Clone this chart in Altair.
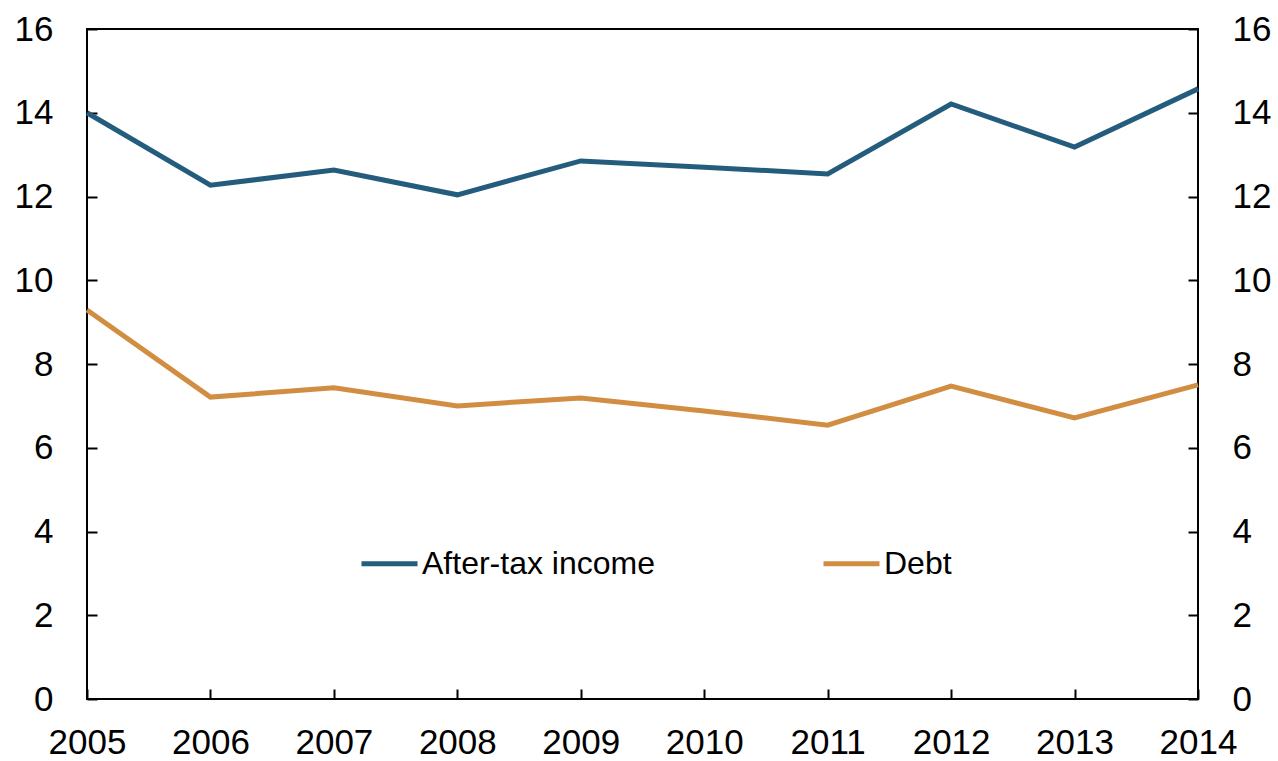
import altair as alt
import pandas as pd

years = [2005, 2006, 2007, 2008, 2009, 2010, 2011, 2012, 2013, 2014]
income = [14.0, 12.27, 12.63, 12.04, 12.85, 12.70, 12.54, 14.21, 13.18, 14.57]
debt = [9.29, 7.21, 7.43, 7.00, 7.19, 6.88, 6.54, 7.47, 6.71, 7.50]
series_names = ["After-tax income", "Debt"]
colors = ["#245C7D", "#D18E42"]
y_ticks = [0, 2, 4, 6, 8, 10, 12, 14, 16]

W, H = 1111, 670
FONT = "Liberation Sans"
FS = 35
LFS = 32

df = pd.DataFrame({
    "year": years + years,
    "value": income + debt,
    "series": [series_names[0]] * len(years) + [series_names[1]] * len(years),
})

x_scale = alt.Scale(domain=[2005, 2014], nice=False, zero=False)
y_scale = alt.Scale(domain=[0, 16], nice=False, zero=True)

label_kw = dict(labelFont=FONT, labelFontSize=FS, labelColor="black", grid=False,
                domain=False, title=None, labelFlush=False, labelOverlap=False)
tick_kw = dict(labels=False, domain=False, grid=False, ticks=True, tickSize=10,
               tickWidth=2, tickColor="black", title=None)

lines = alt.Chart(df).mark_line(strokeWidth=5).encode(
    x=alt.X("year:Q", scale=x_scale,
            axis=alt.Axis(orient="bottom", values=years, format="d", ticks=False,
                          labelPadding=26, **label_kw)),
    y=alt.Y("value:Q", scale=y_scale,
            axis=alt.Axis(orient="left", values=y_ticks, ticks=False,
                          labelPadding=34, **label_kw)),
    color=alt.Color("series:N", scale=alt.Scale(domain=series_names, range=colors),
                    legend=alt.Legend(orient="none", legendX=272, legendY=504,
                                      direction="horizontal", title=None,
                                      symbolType="stroke", symbolSize=3136,
                                      symbolStrokeWidth=5, labelFont=FONT,
                                      labelFontSize=LFS, labelColor="black",
                                      labelOffset=2, columnPadding=158,
                                      labelLimit=500)),
)

ticks_a = alt.Chart(df).mark_point(opacity=0).encode(
    x=alt.X("year:Q", scale=x_scale,
            axis=alt.Axis(orient="top", offset=-H, values=years, **tick_kw)),
    y=alt.Y("value:Q", scale=y_scale,
            axis=alt.Axis(orient="right", offset=-W, values=y_ticks, **tick_kw)),
)

right_labels = alt.Chart(df).mark_point(opacity=0).encode(
    x=alt.X("year:Q", scale=x_scale, axis=None),
    y=alt.Y("value:Q", scale=y_scale,
            axis=alt.Axis(orient="right", values=y_ticks, ticks=False,
                          labelPadding=34, **label_kw)),
)

ticks_b = alt.Chart(df).mark_point(opacity=0).encode(
    x=alt.X("year:Q", scale=x_scale, axis=None),
    y=alt.Y("value:Q", scale=y_scale,
            axis=alt.Axis(orient="left", offset=-W, values=y_ticks, **tick_kw)),
)

chart = alt.layer(lines, ticks_a, right_labels, ticks_b).resolve_axis(
    x="independent", y="independent"
).properties(
    width=W, height=H,
    autosize=alt.AutoSizeParams(type="none"),
    padding={"left": 87, "top": 29, "right": 80, "bottom": 62},
    background="white",
).configure_view(stroke="black", strokeWidth=2)

chart.save("out.html", embed_options={"renderer": "svg", "actions": False})
